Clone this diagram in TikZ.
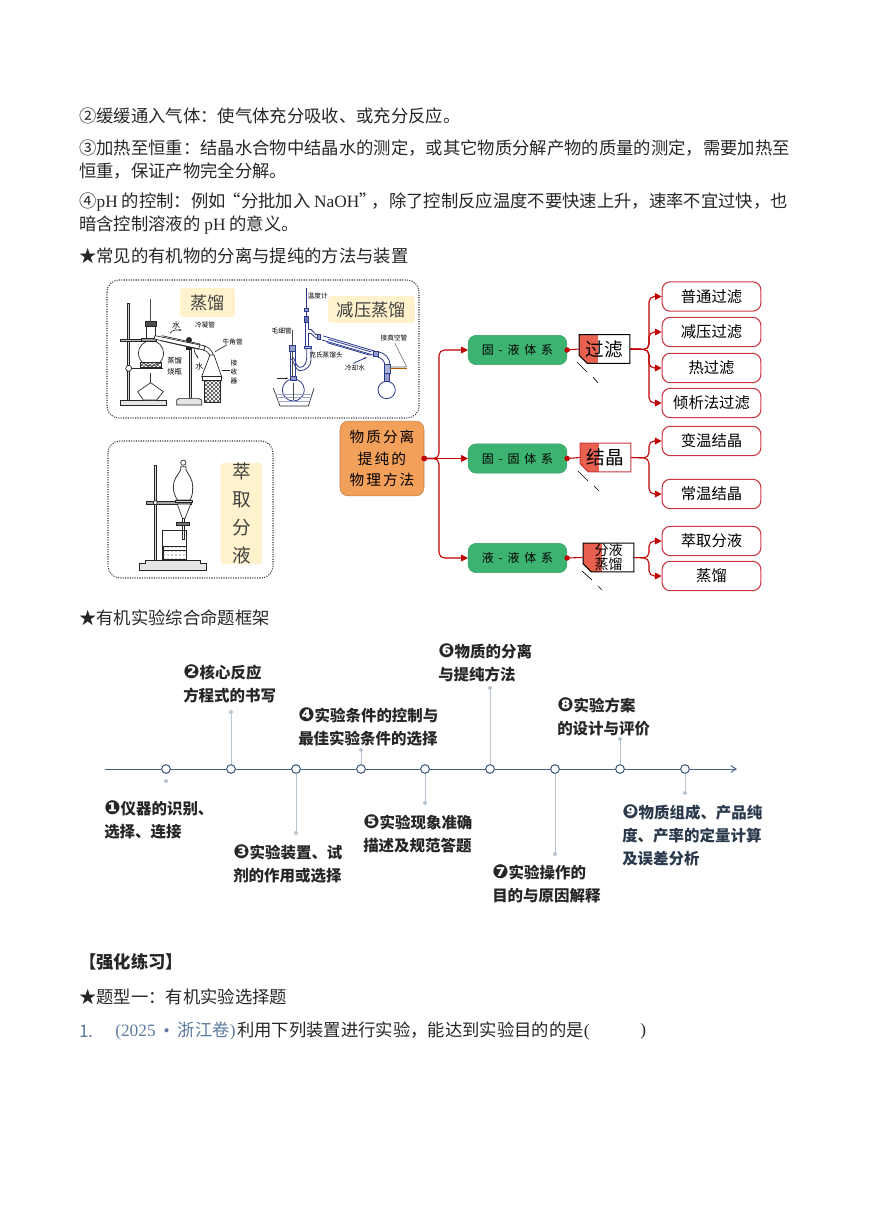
\documentclass[tikz,border=0pt]{standalone}
\usepackage{fontspec}
\setmainfont{Noto Sans CJK SC}
\newfontfamily\serifLatin{Liberation Serif}
\newfontfamily\symbolFont{DejaVu Sans}
\newfontfamily\wideCjk[LetterSpace=14]{Noto Sans CJK SC}
\newfontfamily\widerCjk[LetterSpace=40]{Noto Sans CJK SC}
\usetikzlibrary{arrows.meta,calc,patterns,shapes.misc}
\definecolor{flowRed}{HTML}{C00000}
\definecolor{borderRed}{HTML}{CE3540}
\definecolor{partRed}{HTML}{E8604F}
\definecolor{systemGreen}{HTML}{3CB371}
\definecolor{rootOrange}{HTML}{F2A05A}
\definecolor{noteYellow}{HTML}{FFF2CC}
\definecolor{axisBlue}{HTML}{46617F}
\definecolor{stemBlue}{HTML}{B8C4D0}
\definecolor{examBlue}{HTML}{5B7A9D}
\definecolor{glassBlue}{HTML}{2A3A8C}
\newcommand{\lat}[1]{{\serifLatin #1}}
\newcommand{\num}[1]{{\symbolFont\fontsize{14.5}{17.25}\selectfont #1}}

\begin{document}
\begin{tikzpicture}[
    x=0.75pt,
    y=-0.75pt,
    pageText/.style={anchor=west, inner sep=0pt, font=\fontsize{13}{13}\selectfont, text=black!85},
    panel/.style={draw=black!80, densely dotted, thick, rounded corners=9pt, fill=white},
    note/.style={fill=noteYellow, rounded corners=2pt, inner sep=0pt, text=black!75},
    tiny/.style={inner sep=0pt, font=\fontsize{5}{6}\selectfont, align=center},
    rootBox/.style={
        draw=rootOrange!80!black,
        fill=rootOrange,
        rounded corners=6pt,
        align=center,
        minimum width=63pt,
        minimum height=56pt,
        font=\fontsize{11}{16}\selectfont\wideCjk
    },
    systemBox/.style={
        draw=systemGreen!90!black,
        fill=systemGreen,
        rounded corners=6pt,
        minimum width=74pt,
        minimum height=22pt,
        font=\fontsize{9}{10}\selectfont\widerCjk
    },
    processBox/.style={
        draw=black,
        thick,
        chamfered rectangle,
        chamfered rectangle corners=south west,
        chamfered rectangle sep=3pt,
        minimum width=38pt,
        minimum height=21.5pt,
        inner sep=0pt,
        align=center,
        font=\fontsize{14}{14}\selectfont,
        text=black,
        path picture={\fill[partRed] (path picture bounding box.north west) rectangle ($(path picture bounding box.south west)!0.38!(path picture bounding box.south east)$);}
    },
    methodBox/.style={
        draw=borderRed,
        line width=0.8pt,
        fill=white,
        rounded corners=6pt,
        minimum width=74pt,
        minimum height=22pt,
        font=\fontsize{11.5}{12}\selectfont
    },
    flow/.style={draw=flowRed, thick, rounded corners=4pt, -{Triangle[length=5pt,width=5pt]}},
    rootFlow/.style={flow, {Circle[length=4pt,sep=-2pt]}-{Triangle[length=5pt,width=5pt]}},
    link/.style={draw=flowRed, thick, {Circle[length=4pt,sep=-2pt]}-},
    tickMark/.style={draw=black, line width=0.5pt},
    station/.style={circle, draw=axisBlue, fill=white, line width=0.8pt, minimum size=6.5pt, inner sep=0pt},
    stemTip/.style={circle, fill=stemBlue, minimum size=3pt, inner sep=0pt},
    stem/.style={draw=stemBlue, line width=0.65pt},
    stage/.style={anchor=north west, inner sep=0pt, align=left, font=\fontsize{11.6}{17.25}\selectfont\bfseries, text=black!85},
    glass/.style={draw=black!85, line width=0.5pt},
    vacuum/.style={draw=glassBlue, line width=0.6pt}
]
\useasboundingbox (0,0) rectangle (868,1227);

\node[pageText] (lineA) at (79,116) {②缓缓通入气体：使气体充分吸收、或充分反应。};
\node[pageText] (lineB) at (79,148) {③加热至恒重：结晶水合物中结晶水的测定，或其它物质分解产物的质量的测定，需要加热至};
\node[pageText] (lineC) at (79,171) {恒重，保证产物完全分解。};
\node[pageText] (lineD) at (79,202) {④\lat{pH} 的控制：例如\hspace{-1.5pt}“分批加入 \lat{NaOH}”\hspace{-3.8pt}，除了控制反应温度不要快速上升，速率不宜过快，也};
\node[pageText] (lineE) at (79,225) {暗含控制溶液的 \lat{pH} 的意义。};
\node[pageText] (headSeparation) at (79,256) {★常见的有机物的分离与提纯的方法与装置};
\node[pageText] (headFrame) at (79,618) {★有机实验综合命题框架};
\node[pageText, font=\fontsize{13}{13}\selectfont\bfseries] (headPractice) at (79,962) {【强化练习】};
\node[pageText] (headType) at (79,997) {★题型一：有机实验选择题};
\node[pageText, text=examBlue] (examNumber) at (79,1031) {1.};
\node[pageText, text=examBlue] (examSource) at (115,1031) {\lat{(2025}\hspace{6pt}\lat{•}\hspace{6pt}浙江卷\lat{)}};
\node[pageText] (examStem) at (237,1031) {利用下列装置进行实验，能达到实验目的的是\lat{(}};
\node[pageText] (examClose) at (640,1031) {\lat{)}};

\draw[panel] (107,280) rectangle (419,418);
\draw[panel] (108,441) rectangle (273,578);
\node[note, minimum width=41pt, minimum height=22pt, font=\fontsize{13}{13}\selectfont] (noteDistill) at (207.5,302.5) {蒸馏};
\node[note, minimum width=65pt, minimum height=20pt, font=\fontsize{13}{13}\selectfont] (noteVacuum) at (371.5,309.5) {减压蒸馏};
\node[note, minimum width=31pt, minimum height=74pt, align=center, font=\fontsize{14}{21}\selectfont] (noteExtract) at (241.5,513.5) {萃\\取\\分\\液};

\begin{scope}[shift={(90,270)},x=0.25pt,y=-0.25pt]
    \draw[glass, fill=black!15] (113,100) rectangle (119,390);
    \draw[glass, fill=black!10] (90,390) rectangle (230,405);
    \draw[glass, fill=black!25] (90,208) rectangle (165,214);
    \draw[glass, fill=white] (183,250) circle (38);
    \draw[glass, fill=white] (170,165) rectangle (195,215);
    \draw[glass, fill=black!70] (166,155) rectangle (198,170);
    \draw[line width=1pt, black!70] (182,88) -- (182,155);
    \draw[glass, fill=black!40] (155,205) rectangle (200,214);
    \draw[glass, fill=white] (116,295) circle (9);
    \draw[glass, line width=0.8pt] (125,295) -- (218,295);
    \draw[glass, pattern=crosshatch, pattern color=black!70] (150,278) rectangle (215,292);
    \draw[glass, fill=white] (143,365) -- (182,338) -- (220,365) -- (200,390) -- (160,390) -- cycle;
    \draw[line width=0.9pt, black!80] (182,308) -- (182,340);
    \draw[glass, fill=white] (195,197) -- (345,228) -- (342,240) -- (192,207) -- cycle;
    \draw[glass] (215,197) -- (330,222) -- (326,238) -- (212,212);
    \draw[glass, fill=black!15] (297,235) rectangle (303,385);
    \draw[glass, fill=black!10] (260,390) -- (268,385) -- (325,385) -- (335,390) -- (335,405) -- (260,405) -- cycle;
    \fill[black!85] (297,210) circle (9);
    \fill[black!85] (287,230) rectangle (307,240);
    \draw[glass] (342,228) to[out=-10,in=110] (370,255) (338,240) to[out=-10,in=110] (360,258);
    \draw[glass, fill=white] (360,255) -- (335,320) -- (395,320) -- (372,255) -- cycle;
    \draw[glass, fill=white] (338,320) rectangle (393,330);
    \draw[glass, pattern=crosshatch, pattern color=black!75] (342,330) rectangle (392,398);
    \draw[glass, -{Stealth[length=2pt]}] (240,190) to[out=60,in=180] (275,180);
    \draw[glass, -{Stealth[length=2pt]}] (312,235) to[out=-90,in=120] (325,265);
    \draw[glass] (375,245) -- (410,225);
    \draw[glass] (395,300) -- (420,300);
    \node[tiny, font=\fontsize{6}{7}\selectfont] (labelWaterIn) at (258,166) {水};
    \node[tiny] (labelCondenser) at (345,165) {冷凝管};
    \node[tiny] (labelAdapter) at (428,216) {牛角管};
    \node[tiny, font=\fontsize{5.5}{8}\selectfont] (labelFlask) at (254,288) {蒸馏\\烧瓶};
    \node[tiny, font=\fontsize{6}{7}\selectfont] (labelWaterOut) at (328,288) {水};
    \node[tiny, font=\fontsize{5}{7}\selectfont] (labelReceiver) at (432,306) {接\\收\\器};

    \draw[line width=1pt, glassBlue] (650,55) -- (650,145);
    \draw[vacuum, fill=glassBlue!50] (644,115) rectangle (656,125);
    \draw[vacuum, fill=glassBlue!70] (644,140) rectangle (656,158);
    \draw[vacuum] (645,160) -- (645,232) (655,160) -- (655,178) (655,190) -- (655,232);
    \draw[vacuum] (650,232) -- (650,262) to[out=-90,in=0] (630,292) to[out=180,in=70] (607,265);
    \draw[vacuum] (663,232) -- (663,270) to[out=-90,in=0] (630,302) to[out=180,in=60] (600,270);
    \draw[vacuum, fill=glassBlue!30] (644,228) rectangle (664,236);
    \draw[line width=0.8pt, black!70] (607,180) -- (607,320);
    \draw[vacuum, fill=glassBlue!50] (599,225) rectangle (615,245);
    \draw[vacuum] (600,245) -- (600,318) (615,245) -- (615,318);
    \draw[vacuum, fill=white] (610,360) circle (33);
    \draw[vacuum, fill=glassBlue!50] (600,318) rectangle (618,330);
    \draw[glass, -{Stealth[length=2pt]}] (560,325) -- (595,325);
    \draw[glass] (550,355) -- (570,408) -- (655,408) -- (672,355);
    \draw[draw=glassBlue!45, line width=0.3pt] (556,372) -- (665,372) (560,382) -- (660,382) (565,394) -- (656,394);
    \draw[line width=0.7pt, black!70] (610,340) -- (610,390);
    \draw[vacuum] (655,178) to[out=20,in=180] (685,196) (655,190) to[out=20,in=180] (685,206);
    \draw[vacuum, fill=glassBlue!50] (682,194) rectangle (692,208);
    \draw[vacuum] (700,198) -- (860,245) (696,210) -- (856,257);
    \draw[vacuum] (715,208) -- (845,246) (711,218) -- (841,256);
    \draw[vacuum, fill=glassBlue!50] (850,243) rectangle (864,260);
    \draw[vacuum] (864,245) to[out=-10,in=90] (900,285) (860,260) to[out=-10,in=90] (885,288);
    \draw[vacuum, fill=glassBlue!40] (884,282) rectangle (902,310);
    \draw[vacuum, fill=white] (890,360) circle (26);
    \draw[vacuum, fill=glassBlue!50] (884,310) rectangle (898,335);
    \draw[draw=black!60, line width=0.4pt] (900,291) -- (950,291) (950,291) -- (915,220);
    \draw[draw=orange!70!black, line width=0.3pt] (900,295) -- (950,295);
    \draw[vacuum, -{Stealth[length=2pt]}] (790,280) -- (830,262);
    \node[tiny] (labelThermo) at (683,78) {温度计};
    \node[tiny] (labelCapillary) at (575,182) {毛细管};
    \node[tiny] (labelClaisen) at (708,254) {克氏蒸馏头};
    \node[tiny] (labelCooling) at (795,295) {冷却水};
    \node[tiny] (labelPump) at (912,205) {接真空管};

    \draw[glass, fill=black!15] (192,585) rectangle (200,875);
    \draw[glass, fill=black!10] (148,880) -- (165,880) -- (165,872) -- (332,872) -- (332,880) -- (350,880) -- (350,900) -- (148,900) -- cycle;
    \draw[glass, fill=black!35] (170,694) rectangle (305,702);
    \draw[glass, fill=white] (196,698) circle (6);
    \draw[glass, fill=white] (280,578) circle (8);
    \draw[line width=0.6pt, black!80, fill=white] (272,590) -- (288,590) -- (288,600) to[out=-60,in=90] (308,650) to[out=-90,in=60] (300,690) -- (262,690) to[out=120,in=-90] (250,650) to[out=90,in=-120] (272,600) -- cycle;
    \draw[glass, fill=black!20] (255,690) rectangle (308,697);
    \draw[glass, fill=white] (262,702) -- (302,702) -- (285,745) -- (277,745) -- cycle;
    \draw[glass, fill=white] (276,745) rectangle (284,808);
    \draw[glass, fill=black!55] (258,757) rectangle (297,765);
    \draw[glass] (218,782) -- (218,870) -- (290,870) -- (290,782) -- cycle;
    \draw[glass, pattern=dots, pattern color=black!70] (220,830) rectangle (288,868);
    \draw[glass] (220,830) -- (288,830) (220,840) -- (288,840);
\end{scope}

\node[rootBox] (matterBox) at (382,458.5) {物质分离\\提纯的\\物理方法};
\node[systemBox] (solidLiquid) at (517.5,350) {固-液体系};
\node[systemBox] (solidSolid) at (517.5,458.5) {固-固体系};
\node[systemBox] (liquidLiquid) at (517.5,558) {液-液体系};
\node[processBox] (filterBox) at (604.5,349) {过滤};
\node[processBox, draw=borderRed] (crystalBox) at (605.5,457.5) {结晶};
\node[processBox, inner ysep=-3pt, font=\fontsize{10.5}{9.5}\selectfont] (liquidBox) at (608.5,557.5) {分液\\蒸馏};
\node[methodBox] (normalFilter) at (711.5,296.5) {普通过滤};
\node[methodBox] (vacuumFilter) at (711.5,332) {减压过滤};
\node[methodBox] (hotFilter) at (711.5,368) {热过滤};
\node[methodBox] (decantFilter) at (711.5,403) {倾析法过滤};
\node[methodBox] (coolCrystal) at (711.5,441) {变温结晶};
\node[methodBox] (roomCrystal) at (711.5,494) {常温结晶};
\node[methodBox] (extractBox) at (711.5,541) {萃取分液};
\node[methodBox] (distillBox) at (711.5,576) {蒸馏};

\coordinate (busRoot) at (439,458.5);
\coordinate (busFilter) at (649,349.5);
\coordinate (busCrystal) at (649,458);
\coordinate (busLiquid) at (649,558);

\draw[rootFlow] (matterBox.east) -- (busRoot) |- (solidLiquid.west);
\draw[rootFlow] (matterBox.east) -- (solidSolid.west);
\draw[rootFlow] (matterBox.east) -- (busRoot) |- (liquidLiquid.west);

\draw[link] (solidLiquid.east) -- (filterBox.west);
\draw[link] (solidSolid.east) -- (crystalBox.west);
\draw[link] (liquidLiquid.east) -- (liquidBox.west);

\draw[flow] (filterBox.east) -- (busFilter) |- (normalFilter.west);
\draw[flow] (filterBox.east) -- (busFilter) |- (vacuumFilter.west);
\draw[flow] (filterBox.east) -- (busFilter) |- (hotFilter.west);
\draw[flow] (filterBox.east) -- (busFilter) |- (decantFilter.west);
\draw[flow] (crystalBox.east) -- (busCrystal) |- (coolCrystal.west);
\draw[flow] (crystalBox.east) -- (busCrystal) |- (roomCrystal.west);
\draw[flow] (liquidBox.east) -- (busLiquid) |- (extractBox.west);
\draw[flow] (liquidBox.east) -- (busLiquid) |- (distillBox.west);

\draw[tickMark] (577,362) -- (587,372) (593,377) -- (598,383);
\draw[tickMark] (578,471) -- (588,481) (594,486) -- (599,491);
\draw[tickMark] (582,571) -- (592,580) (598,586) -- (602,590);

\coordinate (axisStart) at (105,769);
\coordinate (axisEnd) at (737,769);
\draw[draw=axisBlue, line width=0.7pt, -{Straight Barb[length=4pt,width=5pt]}] (axisStart) -- (axisEnd);
\foreach \n/\xp in {1/166,2/231,3/296,4/361,5/425,6/490,7/555,8/620,9/685}
    \node[station] (stop\n) at (\xp,769) {};
\foreach \n/\yp in {1/781,2/712,3/833,4/750,5/803,6/688,7/854,8/739,9/793}
    \node[stemTip] (tip\n) at (stop\n |- 0,\yp) {};
\foreach \n in {2,...,9}
    \draw[stem] (stop\n) -- (tip\n);

\node[stage] (stageA) at (104,800) {\num{❶}仪器的识别、\\选择、连接};
\node[stage] (stageB) at (183,664) {\num{❷}核心反应\\方程式的书写};
\node[stage] (stageC) at (233,844) {\num{❸}实验装置、试\\剂的作用或选择};
\node[stage] (stageD) at (298,707) {\num{❹}实验条件的控制与\\最佳实验条件的选择};
\node[stage] (stageE) at (363,814) {\num{❺}实验现象准确\\描述及规范答题};
\node[stage] (stageF) at (438,643) {\num{❻}物质的分离\\与提纯方法};
\node[stage] (stageG) at (492,864) {\num{❼}实验操作的\\目的与原因解释};
\node[stage] (stageH) at (557,697) {\num{❽}实验方案\\的设计与评价};
\node[stage, text=axisBlue!60!black] (stageI) at (622,804) {\num{❾}物质组成、产品纯\\度、产率的定量计算\\及误差分析};

\end{tikzpicture}
\end{document}
